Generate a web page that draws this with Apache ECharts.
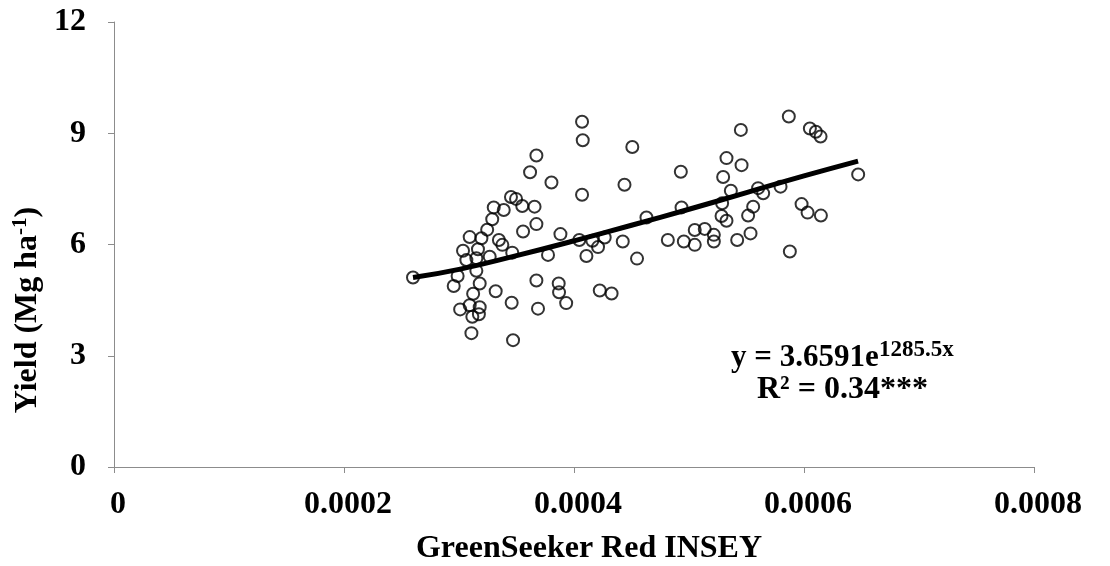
<!DOCTYPE html>
<html lang="en">
	<head>
		<meta charset="utf-8">
		<title>GreenSeeker Red INSEY vs Yield</title>
		<script src="https://cdn.jsdelivr.net/npm/echarts@6/dist/echarts.min.js"></script>
		<style>
			html, body { margin: 0; padding: 0; background: #fff; }
			#chart { width: 1110px; height: 566px; }
		</style>
	</head>
	<body>
		<div id="chart"></div>
		<script type="text/javascript">
			// INSEY values
			var insey = [
				0.000260, 0.0002954, 0.0002988, 0.0003010, 0.0003035, 0.0003064, 0.0003093, 0.0003093, 0.0003108, 0.0003116,
				0.0003123, 0.0003151, 0.0003151, 0.0003165, 0.0003173, 0.0003180, 0.0003180, 0.0003195, 0.0003245, 0.0003267,
				0.0003289, 0.0003302, 0.0003319, 0.0003347, 0.0003377, 0.0003389, 0.0003452, 0.0003463, 0.0003458, 0.0003470,
				0.0003496, 0.0003550, 0.0003557, 0.0003618, 0.0003657, 0.0003673, 0.0003673, 0.0003673, 0.0003687, 0.0003774,
				0.0003804, 0.0003867, 0.0003870, 0.0003882, 0.0003932, 0.0004046, 0.0004070, 0.0004076, 0.0004070, 0.0004108,
				0.0004160, 0.0004209, 0.0004224, 0.0004267, 0.0004327, 0.0004424, 0.0004439, 0.0004507, 0.0004548, 0.0004630,
				0.0004816, 0.0004929, 0.0004935, 0.0004955, 0.0005050, 0.0005050, 0.0005137, 0.0005216, 0.0005216, 0.0005283,
				0.0005288, 0.0005297, 0.0005326, 0.0005326, 0.0005364, 0.0005419, 0.0005451, 0.0005457, 0.0005514, 0.0005535,
				0.0005558, 0.0005601, 0.0005645, 0.0005796, 0.0005868, 0.0005877, 0.0005979, 0.0006031, 0.0006051, 0.0006103,
				0.0006144, 0.0006147, 0.0006471
			];
			// grain yield, Mg/ha
			var yieldVals = [
				5.11, 4.88, 5.15, 4.25, 5.83, 5.58, 6.20, 4.36, 3.61, 4.05,
				4.67, 5.29, 5.63, 5.87, 4.12, 4.95, 4.31, 6.17, 6.40, 5.67,
				6.68, 7.00, 4.74, 6.12, 5.99, 6.93, 7.28, 5.78, 4.43, 3.42,
				7.23, 7.04, 6.35, 7.95, 7.02, 8.40, 6.55, 5.03, 4.27, 5.72,
				7.67, 4.95, 4.71, 6.28, 4.42, 6.12, 9.31, 8.81, 7.34, 5.69,
				6.10, 5.93, 4.76, 6.19, 4.68, 6.08, 7.61, 8.63, 5.62, 6.73,
				6.12, 7.96, 7.00, 6.08, 6.39, 5.99, 6.42, 6.26, 6.08, 6.77,
				7.11, 7.82, 8.33, 6.64, 7.45, 6.12, 9.09, 8.14, 6.78, 6.30,
				7.02, 7.52, 7.38, 7.56, 9.45, 5.81, 7.09, 6.86, 9.13, 9.04,
				8.91, 6.78, 7.89
			];
			// exponential trendline
			var trendX = [0.000260, 0.0003, 0.00035, 0.0004, 0.00045, 0.0005, 0.00055, 0.0006, 0.000647];
			var trendY = [5.11, 5.33, 5.70, 6.10, 6.52, 6.95, 7.40, 7.85, 8.25];

			var xTicks = [0, 0.0002, 0.0004, 0.0006, 0.0008];
			var yTicks = [0, 3, 6, 9, 12];

			var points = [];
			for (var i = 0; i < insey.length; i++) {
				points.push([insey[i], yieldVals[i]]);
			}
			var trend = [];
			for (var j = 0; j < trendX.length; j++) {
				trend.push([trendX[j], trendY[j]]);
			}

			var font = '"Liberation Serif", "Times New Roman", serif';
			var axisGray = '#8c8c8c';

			var chart = echarts.init(document.getElementById('chart'));
			chart.setOption({
				animation: false,
				backgroundColor: '#fff',
				grid: {
					left: 114,
					right: 76,
					top: 22,
					bottom: 99
				},
				xAxis: {
					type: 'value',
					min: xTicks[0],
					max: xTicks[xTicks.length - 1],
					interval: 0.0002,
					splitLine: { show: false },
					axisLine: { onZero: false, lineStyle: { color: axisGray, width: 1 } },
					axisTick: { length: 6, lineStyle: { color: axisGray } },
					axisLabel: {
						margin: 22,
						padding: [0, 0, 0, 8],
						color: '#000',
						fontFamily: font,
						fontWeight: 'bold',
						fontSize: 32,
						formatter: function (v) { return v === 0 ? '0' : v.toFixed(4); }
					}
				},
				yAxis: {
					type: 'value',
					min: yTicks[0],
					max: yTicks[yTicks.length - 1],
					interval: 3,
					splitLine: { show: false },
					axisLine: { show: true, lineStyle: { color: axisGray, width: 1 } },
					axisTick: { show: true, length: 6, lineStyle: { color: axisGray } },
					axisLabel: {
						margin: 28,
						color: '#000',
						fontFamily: font,
						fontWeight: 'bold',
						fontSize: 32
					}
				},
				series: [{
					name: 'obs',
					type: 'scatter',
					data: points,
					symbol: 'circle',
					symbolSize: 12,
					itemStyle: {
						color: 'rgba(255,255,255,0)',
						borderColor: '#000',
						borderWidth: 2
					},
					z: 2
				}, {
					name: 'trend',
					type: 'line',
					data: trend,
					smooth: true,
					showSymbol: false,
					symbol: 'none',
					lineStyle: { color: '#000', width: 5 },
					z: 5
				}],
				graphic: [{
					// x axis title
					type: 'text',
					x: 589,
					y: 549,
					style: {
						text: 'GreenSeeker Red INSEY',
						align: 'center',
						verticalAlign: 'middle',
						fontFamily: font,
						fontWeight: 'bold',
						fontSize: 32,
						fill: '#000'
					}
				}, {
					// y axis title
					type: 'text',
					x: 28,
					y: 310,
					rotation: Math.PI / 2,
					style: {
						text: '{b|Yield (Mg ha}{s|-1}{b|)}',
						align: 'center',
						verticalAlign: 'middle',
						rich: {
							b: { fontFamily: font, fontWeight: 'bold', fontSize: 32, fill: '#000' },
							s: { fontFamily: font, fontWeight: 'bold', fontSize: 21, fill: '#000', padding: [0, 0, 14, 0] }
						}
					}
				}, {
					type: 'text',
					left: 731,
					top: 342,
					style: {
						text: 'y = 3.6591e',
						fontFamily: font,
						fontWeight: 'bold',
						fontSize: 31,
						fill: '#000'
					}
				}, {
					type: 'text',
					left: 879,
					top: 339,
					style: {
						text: '1285.5x',
						fontFamily: font,
						fontWeight: 'bold',
						fontSize: 23,
						fill: '#000'
					}
				}, {
					type: 'text',
					left: 757,
					top: 374,
					style: {
						text: 'R² = 0.34***',
						fontFamily: font,
						fontWeight: 'bold',
						fontSize: 32,
						fill: '#000'
					}
				}]
			});
		</script>
	</body>
</html>
